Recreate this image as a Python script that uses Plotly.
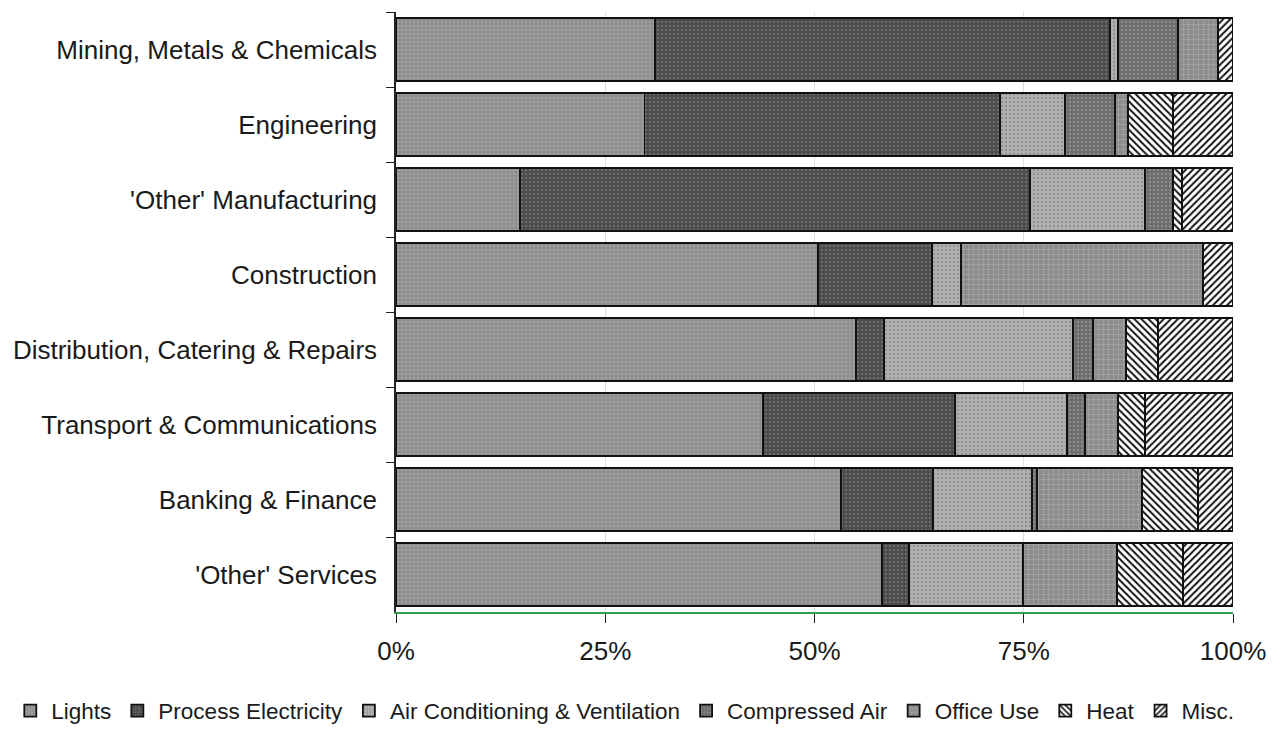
import plotly.graph_objects as go

# Sectors, top to bottom
categories = [
    "Mining, Metals & Chemicals",
    "Engineering",
    "'Other' Manufacturing",
    "Construction",
    "Distribution, Catering & Repairs",
    "Transport & Communications",
    "Banking & Finance",
    "'Other' Services",
]

# Share of electricity use by end use (% of sector total)
lights = [30.9, 29.7, 14.8, 50.4, 55.0, 43.8, 53.2, 58.1]
process_electricity = [54.4, 42.5, 60.9, 13.6, 3.3, 23.0, 11.0, 3.2]
air_conditioning = [1.0, 7.7, 13.8, 3.5, 22.6, 13.4, 11.8, 13.6]
compressed_air = [7.1, 6.0, 3.3, 0.0, 2.4, 2.1, 0.6, 0.0]
office_use = [4.8, 1.6, 0.0, 28.9, 3.9, 4.0, 12.5, 11.2]
heat = [0.0, 5.3, 1.1, 0.0, 3.8, 3.2, 6.7, 7.9]
misc = [1.8, 7.2, 6.1, 3.6, 9.0, 10.5, 4.2, 6.0]

x_ticks = [0, 25, 50, 75, 100]
x_tick_labels = ["0%", "25%", "50%", "75%", "100%"]

series = [
    ("Lights", lights, dict(shape="+", bgcolor="#8a8a8a", fgcolor="#b2b2b2", size=4, solidity=0.25)),
    ("Process Electricity", process_electricity, dict(shape=".", bgcolor="#4a4a4a", fgcolor="#6c6c6c", size=4, solidity=0.3)),
    ("Air Conditioning & Ventilation", air_conditioning, dict(shape=".", bgcolor="#b1b1b1", fgcolor="#939393", size=4, solidity=0.3)),
    ("Compressed Air", compressed_air, dict(shape=".", bgcolor="#6c6c6c", fgcolor="#8c8c8c", size=4, solidity=0.3)),
    ("Office Use", office_use, dict(shape="+", bgcolor="#8c8c8c", fgcolor="#a6a6a6", size=5, solidity=0.25)),
    ("Heat", heat, dict(shape="\\", bgcolor="#ffffff", fgcolor="#111111", size=5, solidity=0.4)),
    ("Misc.", misc, dict(shape="/", bgcolor="#ffffff", fgcolor="#111111", size=5, solidity=0.4)),
]

fig = go.Figure()
for name, values, pattern in series:
    fig.add_trace(go.Bar(
        name=name,
        y=categories,
        x=values,
        orientation="h",
        marker=dict(
            color=pattern["bgcolor"],
            pattern=dict(fillmode="replace", **pattern),
            line=dict(color="#111111", width=1.8),
        ),
        hovertemplate="%{y}<br>" + name + ": %{x:.1f}%<extra></extra>",
    ))

font_family = "Liberation Sans, Arial, sans-serif"

fig.update_layout(
    barmode="stack",
    bargap=0.16,
    width=1280,
    height=730,
    margin=dict(l=396, r=47, t=12, b=118, autoexpand=False),
    paper_bgcolor="white",
    plot_bgcolor="white",
    font=dict(family=font_family, color="#1a1a1a"),
    xaxis=dict(
        range=[0, 100],
        tickmode="array",
        tickvals=x_ticks,
        ticktext=x_tick_labels,
        tickfont=dict(size=26, color="#1a1a1a"),
        showgrid=True,
        gridcolor="#dedede",
        gridwidth=1,
        zeroline=False,
        showline=True,
        linecolor="#2e9a52",
        linewidth=2,
        ticks="outside",
        ticklen=9,
        tickcolor="#222222",
        ticklabelstandoff=6,
    ),
    yaxis=dict(
        categoryorder="array",
        categoryarray=categories,
        autorange="reversed",
        tickson="boundaries",
        ticks="outside",
        ticklen=8,
        tickcolor="#222222",
        tickfont=dict(size=26, color="#1a1a1a"),
        showline=True,
        linecolor="#222222",
        linewidth=1.5,
        showgrid=False,
        ticklabelstandoff=12,
    ),
    legend=dict(
        orientation="h",
        x=-0.462,
        xanchor="left",
        y=-0.165,
        yanchor="middle",
        font=dict(size=22.5, color="#1a1a1a", family=font_family),
        traceorder="normal",
        itemwidth=32,
        bgcolor="rgba(0,0,0,0)",
    ),
)

fig.write_html("out.html")
